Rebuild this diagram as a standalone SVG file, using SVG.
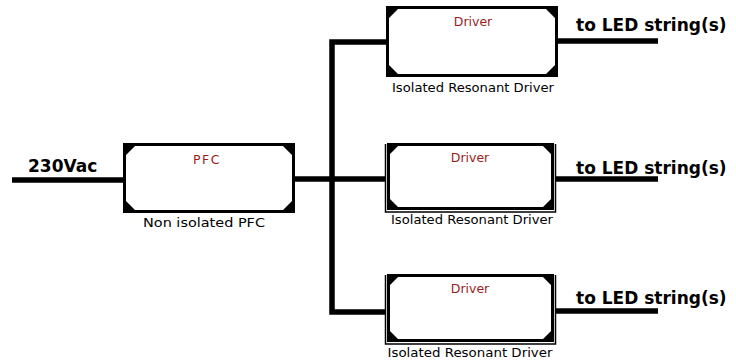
<svg xmlns="http://www.w3.org/2000/svg" width="736" height="363" viewBox="0 0 736 363">
<style>
.bg{fill:#ffffff}
.box{fill:#ffffff;stroke:#000;stroke-width:3}
.thin{fill:none;stroke:#000;stroke-width:1.5}
.corner{fill:#000}
.wire{fill:none;stroke:#000;stroke-width:5.5;stroke-linejoin:miter;stroke-linecap:butt}
.title{font-family:"DejaVu Sans",sans-serif;font-size:12.5px;fill:#9b1c1c;text-anchor:middle}
.sub{font-family:"DejaVu Sans",sans-serif;font-size:12.5px;fill:#000;text-anchor:middle}
.big{font-family:"DejaVu Sans",sans-serif;font-size:17px;font-weight:bold;fill:#000}
</style>
<rect class="bg" x="0" y="0" width="736" height="363"/>
<g id="connectors">
<path class="wire" d="M12,180 H123"/>
<path class="wire" d="M295,179 H386"/>
<path class="wire" d="M386,42 H332 V312 H386"/>
<path class="wire" d="M558,41 H658"/>
<path class="wire" d="M555,179 H658"/>
<path class="wire" d="M555,311 H658"/>
</g>
<g id="input">
<text class="big" x="28" y="172">230Vac</text>
</g>
<g id="pfc">
<rect class="box" x="124.5" y="144.5" width="169" height="67"/>
<path class="corner" d="M124,144 h13 L124,157 z M294,144 h-13 L294,157 z M124,212 h13 L124,199 z M294,212 h-13 L294,199 z"/>
<text class="title" x="207" y="164" letter-spacing="1.5">PFC</text>
<text class="sub" x="204" y="227" textLength="122" lengthAdjust="spacingAndGlyphs">Non isolated PFC</text>
</g>
<g id="driver1">
<rect class="box" x="387.5" y="7.5" width="169" height="68"/>
<path class="corner" d="M387,7 h13 L387,20 z M557,7 h-13 L557,20 z M387,76 h13 L387,63 z M557,76 h-13 L557,63 z"/>
<text class="title" x="473" y="26">Driver</text>
<text class="sub" x="473" y="92" textLength="162" lengthAdjust="spacingAndGlyphs">Isolated Resonant Driver</text>
<text class="big" x="576" y="31">to LED string(s)</text>
</g>
<g id="driver2">
<rect class="box" x="388.5" y="144.5" width="164" height="64"/>
<path class="thin" d="M385.5,144 V212 H555.5 V144"/>
<path class="corner" d="M388,144 h12 L388,156 z M553,144 h-12 L553,156 z M388,209 h12 L388,197 z M553,209 h-12 L553,197 z"/>
<text class="title" x="470" y="162">Driver</text>
<text class="sub" x="472" y="224" textLength="162" lengthAdjust="spacingAndGlyphs">Isolated Resonant Driver</text>
<text class="big" x="576" y="174">to LED string(s)</text>
</g>
<g id="driver3">
<rect class="box" x="388.5" y="275.5" width="164" height="65"/>
<path class="thin" d="M385.5,275 V344 H555.5 V275"/>
<path class="corner" d="M388,275 h12 L388,287 z M553,275 h-12 L553,287 z M388,341 h12 L388,329 z M553,341 h-12 L553,329 z"/>
<text class="title" x="470" y="293">Driver</text>
<text class="sub" x="470" y="357" textLength="165" lengthAdjust="spacingAndGlyphs">Isolated Resonant Driver</text>
<text class="big" x="576" y="304">to LED string(s)</text>
</g>
</svg>
